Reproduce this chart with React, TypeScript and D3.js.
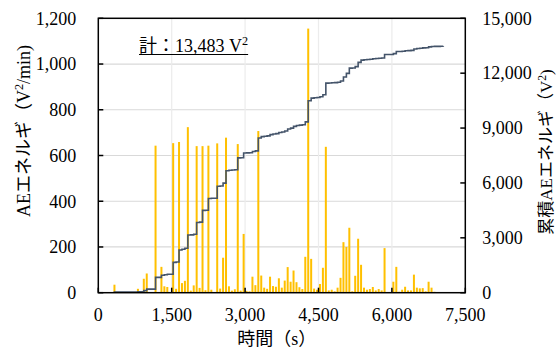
import React, { useEffect, useRef } from "react";
import * as d3 from "d3";

// AE energy per minute (bar) — minute index and value in V²/min
const minutes = [
  6, 14, 16, 17, 20, 22, 23, 24, 26, 27, 28, 29, 30, 31, 32, 33, 34, 35, 36, 37,
  38, 39, 41, 42, 43, 44, 45, 46, 47, 48, 49, 50, 51, 52, 53, 54, 55, 56, 57, 58,
  59, 60, 61, 62, 63, 64, 65, 66, 67, 68, 69, 70, 71, 72, 73, 74, 75, 76, 77, 78,
  79, 80, 81, 82, 83, 84, 85, 86, 87, 88, 89, 90, 91, 92, 93, 94, 95, 96, 97, 98,
  101, 102, 103, 104, 105, 106, 107, 108, 109, 110, 111, 112, 113, 114, 115, 116, 117, 118,
];
const energy = [
  35, 17, 61, 84, 643, 113, 28, 25, 654, 17, 659, 42, 52, 724, 9, 32, 641, 21, 641, 11,
  643, 13, 653, 18, 153, 678, 28, 9, 15, 650, 9, 257, 8, 6, 70, 33, 707, 75, 22, 17,
  70, 29, 26, 63, 22, 53, 112, 48, 97, 46, 24, 16, 157, 1155, 148, 18, 13, 38, 109, 638,
  10, 13, 6, 22, 65, 221, 200, 284, 6, 74, 236, 122, 22, 13, 16, 25, 10, 16, 10, 195,
  48, 113, 4, 13, 26, 10, 10, 79, 22, 19, 20, 6, 48, 22, 4, 3, 2, 2,
];

const xTicks = [0, 1500, 3000, 4500, 6000, 7500];
const yLeftTicks = [0, 200, 400, 600, 800, 1000, 1200];
const yRightTicks = [0, 3000, 6000, 9000, 12000, 15000];

// text pieces: [text, superscript?]
const totalLabel: [string, boolean][] = [["計：13,483 V", false], ["2", true]];
const xTitle: [string, boolean][] = [["時間（s）", false]];
const yLeftTitle: [string, boolean][] = [["AEエネルギ（V", false], ["2", true], ["/min)", false]];
const yRightTitle: [string, boolean][] = [["累積AEエネルギ（V", false], ["2", true], [")", false]];

const FONT = "'Liberation Serif', 'Times New Roman', 'Noto Sans CJK JP', serif";

const AEChart: React.FC = () => {
  const ref = useRef<SVGSVGElement | null>(null);

  useEffect(() => {
    if (ref.current) drawChart(ref.current);
  }, []);

  const drawChart = (svgEl: SVGSVGElement) => {
    const width = 560;
    const height = 352;
    const left = 98.3;
    const right = 465.3;
    const top = 18.3;
    const bottom = 292.7;

    d3.select(svgEl).selectAll("*").remove();
    const svg = d3.select(svgEl).attr("width", width).attr("height", height);

    const x = d3.scaleLinear().domain([0, 7500]).range([left, right]);
    const yL = d3.scaleLinear().domain([0, 1200]).range([bottom, top]);
    const yR = d3.scaleLinear().domain([0, 15000]).range([bottom, top]);

    // grid
    svg
      .append("g")
      .selectAll("line")
      .data(yLeftTicks.slice(1, -1))
      .join("line")
      .attr("x1", left)
      .attr("x2", right)
      .attr("y1", (d) => yL(d))
      .attr("y2", (d) => yL(d))
      .attr("stroke", "#d9d9d9")
      .attr("stroke-width", 1.2);
    svg
      .append("g")
      .selectAll("line")
      .data(xTicks.slice(1, -1))
      .join("line")
      .attr("x1", (d) => x(d))
      .attr("x2", (d) => x(d))
      .attr("y1", top)
      .attr("y2", bottom)
      .attr("stroke", "#ececec")
      .attr("stroke-width", 1.2);

    // bars (per minute, drawn at middle of the minute)
    const times = minutes.map((m) => (m - 0.5) * 60);
    svg
      .append("g")
      .selectAll("rect")
      .data(energy)
      .join("rect")
      .attr("x", (d, i) => x(times[i]) - 1)
      .attr("width", 2)
      .attr("y", (d) => yL(d))
      .attr("height", (d) => yL(0) - yL(d))
      .attr("fill", "#FFC000");

    // cumulative line
    const cum = d3.cumsum(energy);
    const pts: [number, number][] = [[times[0], 0]];
    times.forEach((t, i) => pts.push([t, cum[i]]));
    const line = d3
      .line<[number, number]>()
      .x((d) => x(d[0]))
      .y((d) => yR(d[1]))
      .curve(d3.curveStepAfter);
    svg
      .append("path")
      .datum(pts)
      .attr("d", line)
      .attr("fill", "none")
      .attr("stroke", "#44546A")
      .attr("stroke-width", 1.6);

    // frame
    svg
      .append("rect")
      .attr("x", left)
      .attr("y", top)
      .attr("width", right - left)
      .attr("height", bottom - top)
      .attr("fill", "none")
      .attr("stroke", "#000")
      .attr("stroke-width", 1.5);

    // inner ticks
    const tk = 5;
    svg
      .append("g")
      .selectAll("line")
      .data(yLeftTicks)
      .join("line")
      .attr("x1", left)
      .attr("x2", left + tk)
      .attr("y1", (d) => yL(d))
      .attr("y2", (d) => yL(d))
      .attr("stroke", "#000")
      .attr("stroke-width", 1.5);
    svg
      .append("g")
      .selectAll("line")
      .data(yRightTicks)
      .join("line")
      .attr("x1", right - tk)
      .attr("x2", right)
      .attr("y1", (d) => yR(d))
      .attr("y2", (d) => yR(d))
      .attr("stroke", "#000")
      .attr("stroke-width", 1.5);
    svg
      .append("g")
      .selectAll("line")
      .data(xTicks)
      .join("line")
      .attr("x1", (d) => x(d))
      .attr("x2", (d) => x(d))
      .attr("y1", bottom)
      .attr("y2", bottom - tk)
      .attr("stroke", "#000")
      .attr("stroke-width", 1.5);

    const fmt = d3.format(",");

    // tick labels
    svg
      .append("g")
      .selectAll("text")
      .data(yLeftTicks)
      .join("text")
      .attr("x", left - 22)
      .attr("y", (d) => yL(d))
      .attr("dy", "0.35em")
      .attr("text-anchor", "end")
      .style("font-family", FONT)
      .style("font-size", "18px")
      .style("fill", "#000")
      .text((d) => fmt(d));
    svg
      .append("g")
      .selectAll("text")
      .data(yRightTicks)
      .join("text")
      .attr("x", right + 17)
      .attr("y", (d) => yR(d))
      .attr("dy", "0.35em")
      .attr("text-anchor", "start")
      .style("font-family", FONT)
      .style("font-size", "18px")
      .style("fill", "#000")
      .text((d) => fmt(d));
    svg
      .append("g")
      .selectAll("text")
      .data(xTicks)
      .join("text")
      .attr("x", (d) => x(d))
      .attr("y", 321)
      .attr("text-anchor", "middle")
      .style("font-family", FONT)
      .style("font-size", "18px")
      .style("fill", "#000")
      .text((d) => fmt(d));

    // text with superscript pieces
    const richText = (
      parts: [string, boolean][],
      transform: string,
      size: number,
      anchor: string
    ) => {
      const t = svg
        .append("text")
        .attr("transform", transform)
        .attr("text-anchor", anchor)
        .style("font-family", FONT)
        .style("font-size", `${size}px`)
        .style("fill", "#000");
      let up = false;
      parts.forEach(([s, sup]) => {
        const sp = t.append("tspan").text(s);
        if (sup) {
          sp.style("font-size", `${size * 0.68}px`).attr("dy", -size * 0.38);
          up = true;
        } else if (up) {
          sp.attr("dy", size * 0.38);
          up = false;
        }
      });
      return t;
    };

    // axis titles
    richText(xTitle, `translate(${x(3750) - 5},345)`, 18, "middle");
    richText(yLeftTitle, `translate(30,131) rotate(-90)`, 18, "middle");
    richText(yRightTitle, `translate(552,152) rotate(-90)`, 17, "middle");

    // total label, underlined
    const t = richText(totalLabel, `translate(139,52)`, 18, "start");
    const w = (t.node() as SVGTextElement).getBBox().width;
    svg
      .append("line")
      .attr("x1", 139)
      .attr("x2", 139 + w)
      .attr("y1", 54.5)
      .attr("y2", 54.5)
      .attr("stroke", "#000")
      .attr("stroke-width", 1);
  };

  return (
    <svg
      ref={ref}
      style={{ position: "absolute", left: 0, top: 0, display: "block", background: "#fff" }}
    ></svg>
  );
};

export default function App() {
  return <AEChart />;
}
